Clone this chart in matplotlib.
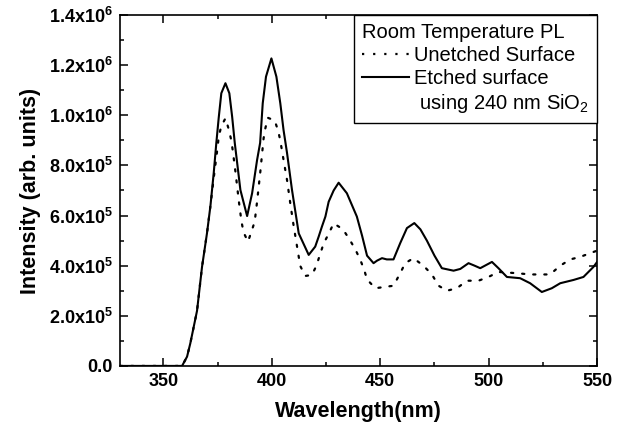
import matplotlib
matplotlib.use("Agg")
import matplotlib.pyplot as plt
from matplotlib.ticker import MultipleLocator, FuncFormatter
from matplotlib.lines import Line2D

plt.rcParams['font.family'] = ['Liberation Sans', 'DejaVu Sans']
plt.rcParams['mathtext.fontset'] = 'custom'
plt.rcParams['mathtext.rm'] = 'Liberation Sans'
plt.rcParams['mathtext.it'] = 'Liberation Sans:italic'
plt.rcParams['mathtext.bf'] = 'Liberation Sans:bold'

# etched surface (solid), intensity in units of 1e5
wl_etched = [330, 358.6, 360.9, 362.4, 365.5, 367.8, 370.1, 371.7, 373.2, 374.4,
             375.5, 376.7, 378.6, 380.4, 381.7, 382.9, 385.5, 388.6, 390.9, 393.2,
             394.6, 395.8, 397.3, 399.8, 402.1, 403.9, 405.4, 407.0, 409.3, 412.4,
             417.0, 420.0, 421.6, 423.1, 424.7, 426.2, 428.5, 430.8, 434.6, 439.2,
             441.6, 443.9, 446.9, 448.5, 450.8, 453.0, 456.1, 459.2, 462.3, 465.7,
             468.5, 471.5, 475.0, 478.4, 483.8, 486.9, 490.7, 493.5, 496.1, 501.5,
             504.5, 508.4, 514.5, 519.1, 524.5, 529.1, 533.0, 539.1, 543.7, 548.3, 550]
int_etched = [0, 0, 0.37, 0.9, 2.2, 3.95, 5.3, 6.4, 7.7, 8.9,
              9.9, 10.88, 11.28, 10.88, 9.94, 8.9, 7.02, 5.98, 6.89, 8.22,
              8.9, 10.48, 11.54, 12.27, 11.54, 10.48, 9.41, 8.5, 7.02, 5.29,
              4.43, 4.76, 5.16, 5.56, 5.96, 6.55, 7.0, 7.31, 6.89, 5.96,
              5.2, 4.4, 4.1, 4.2, 4.3, 4.25, 4.25, 4.9, 5.5, 5.7,
              5.45, 5.0, 4.4, 3.9, 3.8, 3.87, 4.1, 4.0, 3.9, 4.15,
              3.9, 3.55, 3.5, 3.3, 2.95, 3.1, 3.3, 3.43, 3.55, 3.95, 4.15]

# unetched surface (dotted)
wl_unetched = [330, 358.6, 360.9, 362.4, 365.5, 367.8, 370.1, 371.7, 373.2, 375.0,
               375.5, 376.7, 378.6, 380.1, 381.2, 381.9, 383.2, 384.8, 386.0, 387.0,
               389.0, 390.6, 392.1, 393.2, 394.7, 396.2, 397.0, 398.2, 401.3, 402.9,
               403.9, 405.4, 407.0, 408.5, 410.0, 411.5, 413.1, 415.4, 418.5, 420.5,
               423.9, 426.2, 428.5, 432.8, 435.8, 438.5, 440.8, 442.6, 443.9, 447.7,
               456.1, 459.2, 461.5, 465.3, 469.9, 473.8, 476.9, 480.7, 485.3, 490.0,
               495.3, 499.9, 504.5, 513.0, 519.1, 528.3, 533.0, 537.6, 542.2, 546.8, 550]
int_unetched = [0, 0, 0.37, 0.9, 2.2, 3.95, 5.3, 6.4, 7.5, 8.74,
                9.15, 9.57, 9.88, 9.45, 9.04, 8.64, 7.76, 6.56, 5.76, 5.32,
                4.96, 5.36, 5.76, 6.56, 7.76, 9.08, 9.48, 9.9, 9.79, 9.39,
                8.99, 8.22, 7.42, 6.49, 5.62, 4.83, 3.99, 3.59, 3.63, 3.99,
                4.89, 5.27, 5.69, 5.45, 5.05, 4.65, 4.23, 3.83, 3.45, 3.1,
                3.2, 3.7, 4.1, 4.3, 4.0, 3.65, 3.2, 3.0, 3.1, 3.4,
                3.4, 3.55, 3.75, 3.7, 3.65, 3.65, 4.0, 4.25, 4.35, 4.5, 4.6]

x_ticks = [350, 400, 450, 500, 550]

fig = plt.figure(figsize=(6.22, 4.30), dpi=100)
ax = fig.add_axes([0.193, 0.149, 0.767, 0.816])

ax.plot(wl_unetched, [v * 1e5 for v in int_unetched], color='black', lw=1.6,
        linestyle=(0, (1, 4)), dash_capstyle='round')
ax.plot(wl_etched, [v * 1e5 for v in int_etched], color='black', lw=1.5)

ax.set_xlim(330, 550)
ax.set_ylim(0, 1.4e6)
ax.set_xticks(x_ticks)
ax.xaxis.set_minor_locator(MultipleLocator(25))
ax.yaxis.set_major_locator(MultipleLocator(2e5))
ax.yaxis.set_minor_locator(MultipleLocator(1e5))


def yfmt(v, pos):
    if v == 0:
        return '0.0'
    e = 0
    m = v
    while m >= 10:
        m /= 10
        e += 1
    return f"{m:.1f}x10$^{{\\mathbf{{{e}}}}}$"


ax.yaxis.set_major_formatter(FuncFormatter(yfmt))
ax.tick_params(which='both', direction='in', top=True, right=True, width=1.1)
ax.tick_params(which='major', length=5.5, labelsize=13, pad=5)
ax.tick_params(which='minor', length=3)
for lab in ax.get_xticklabels() + ax.get_yticklabels():
    lab.set_fontweight('bold')
for s in ax.spines.values():
    s.set_linewidth(1.2)

ax.set_xlabel('Wavelength(nm)', fontsize=15.5, fontweight='bold', labelpad=8)
ax.set_ylabel('Intensity (arb. units)', fontsize=15.5, fontweight='bold', labelpad=6)

handles = [Line2D([], [], color='black', lw=1.6, linestyle=(0, (1, 4))),
           Line2D([], [], color='black', lw=1.5),
           Line2D([], [], linestyle='none')]
labels = ['Unetched Surface', 'Etched surface', ' using 240 nm SiO$_2$']
leg = ax.legend(handles, labels, title='Room Temperature PL', loc='upper right',
                bbox_to_anchor=(1, 1), borderaxespad=0, fontsize=14.5,
                title_fontsize=14.5, fancybox=False, edgecolor='black', framealpha=1,
                handlelength=2.35, handletextpad=0.25, labelspacing=0.2,
                borderpad=0.4, alignment='left')
leg.get_frame().set_linewidth(1.0)

fig.savefig('out.png', dpi=100)
